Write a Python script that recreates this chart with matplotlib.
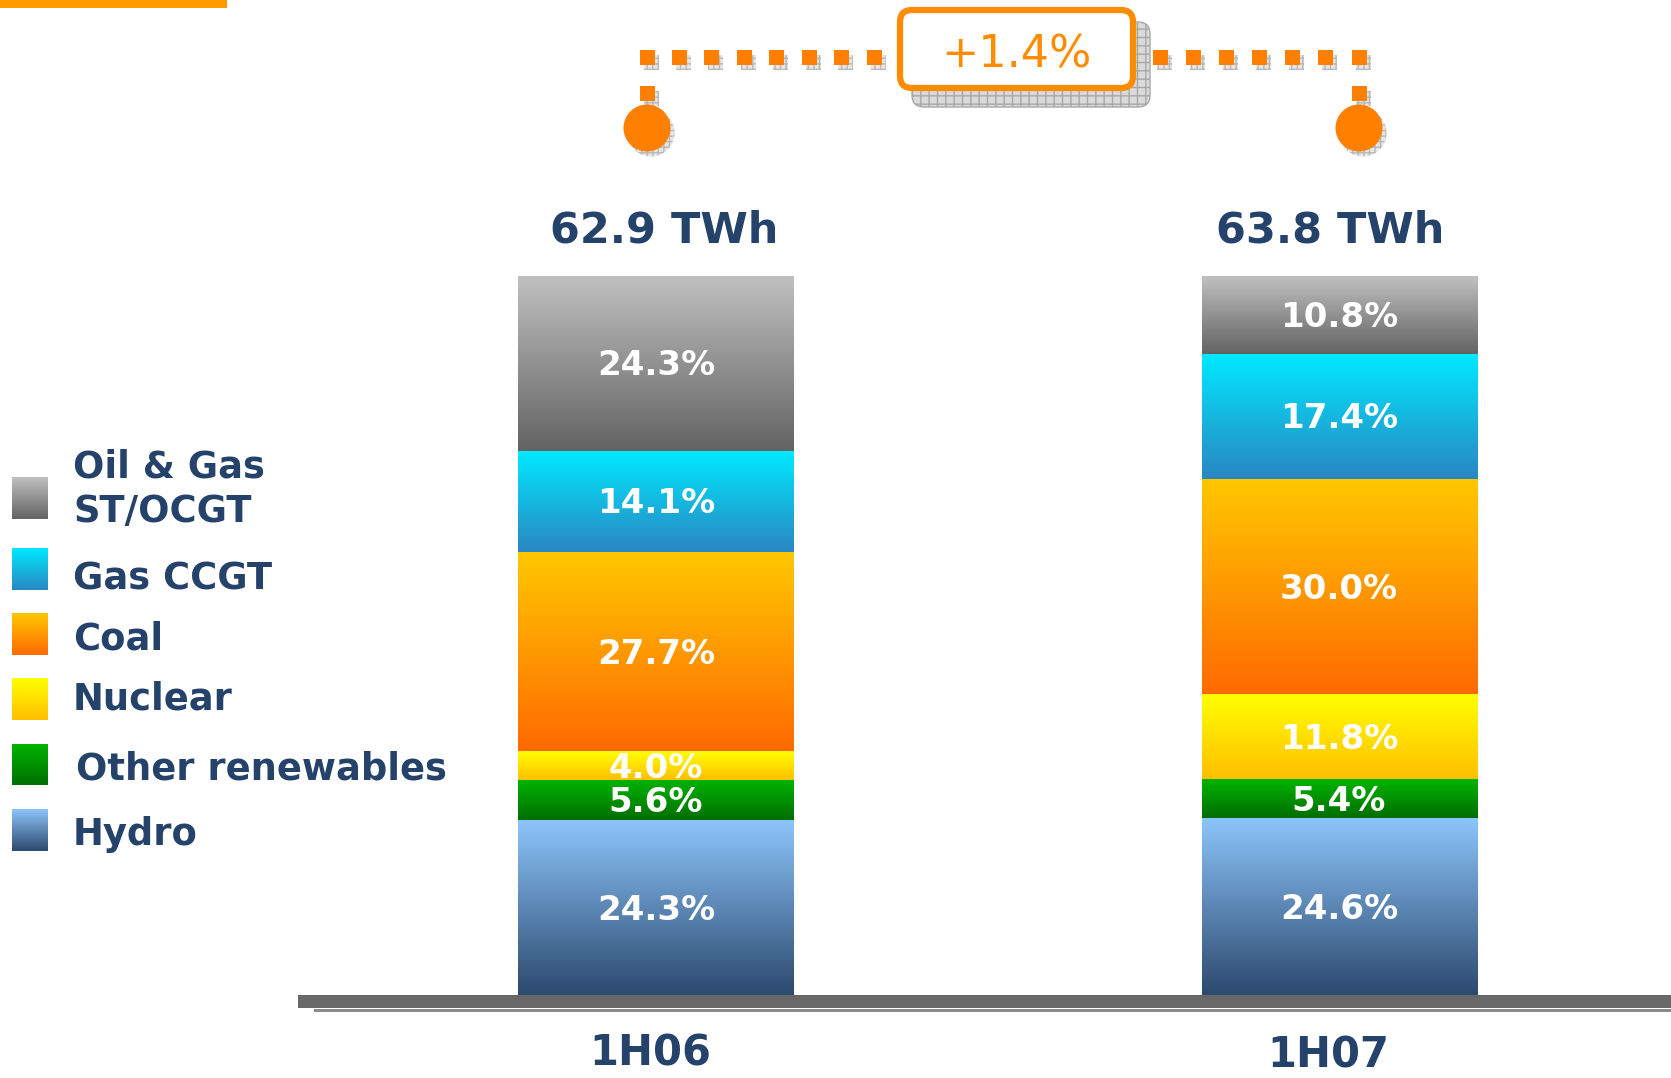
import numpy as np
import matplotlib
matplotlib.use("Agg")
import matplotlib.pyplot as plt
from matplotlib.colors import to_rgb
from matplotlib.patches import Rectangle, Ellipse, FancyBboxPatch

# ---------------- data ----------------
categories = ["Hydro", "Other renewables", "Nuclear", "Coal", "Gas CCGT", "Oil & Gas\nST/OCGT"]
periods = ["1H06", "1H07"]
share_1h06 = [24.3, 5.6, 4.0, 27.7, 14.1, 24.3]
share_1h07 = [24.6, 5.4, 11.8, 30.0, 17.4, 10.8]
totals_twh = [62.9, 63.8]

# gradient colours (top, bottom) per category
grad_top = ["#8cc5fb", "#00b400", "#ffff00", "#ffc800", "#00eaff", "#c0c0c0"]
grad_bot = ["#2c496e", "#006e00", "#ffbf00", "#ff6a00", "#2a86c2", "#636363"]

NAVY = "#24426a"
ORANGE = "#ff7f00"
BOX_ORANGE = "#ff8c00"

W, H = 1671, 1078
fig = plt.figure(figsize=(W / 100, H / 100), dpi=100)
fig.patch.set_facecolor("white")


def gradient(top, bot, n=256):
    t = np.linspace(0, 1, n)[:, None]
    ct, cb = np.array(to_rgb(top)), np.array(to_rgb(bot))
    # row 0 = bottom colour
    img = cb[None, :] * (1 - t[..., None]) + ct[None, :] * t[..., None]
    return np.repeat(img, 2, axis=1)


# ---------------- bar axes ----------------
ax_left, ax_right, ax_bot, ax_top = 298, 1671, 995, 276
ax = fig.add_axes([ax_left / W, (H - ax_bot) / H, (ax_right - ax_left) / W, (ax_bot - ax_top) / H])
ax.axis("off")
x = np.arange(len(periods))
width = 0.4026
data = np.array([share_1h06, share_1h07]).T  # categories x periods
bottom = np.zeros(len(periods))
for ci, cat in enumerate(categories):
    bars = ax.bar(x, data[ci], width=width, bottom=bottom, color="none", edgecolor="none")
    for bi, p in enumerate(bars.patches):
        x0, y0, w, h = p.get_x(), p.get_y(), p.get_width(), p.get_height()
        ax.imshow(gradient(grad_top[ci], grad_bot[ci]), extent=(x0, x0 + w, y0, y0 + h),
                  origin="lower", aspect="auto", interpolation="bilinear", zorder=1)
        ax.annotate(f"{data[ci][bi]:.1f}%", xy=(x0 + w / 2, y0 + h / 2), xytext=(0, -12),
                    textcoords="offset pixels", ha="center", va="baseline",
                    color="white", fontsize=24.5, fontweight="bold", zorder=3)
    bottom = bottom + data[ci]

tot_dx = [8, -9]
for i, t in enumerate(totals_twh):
    ax.annotate(f"{t:.1f} TWh", xy=(x[i], bottom[i]), xytext=(tot_dx[i], 34),
                textcoords="offset pixels", ha="center", va="baseline",
                color=NAVY, fontsize=31, fontweight="bold")

cat_dx = [-6, -11]
cat_dy = [-71, -72]
for i, p in enumerate(periods):
    ax.annotate(p, xy=(x[i], 0), xytext=(cat_dx[i], cat_dy[i]), textcoords="offset pixels",
                ha="center", va="baseline", color=NAVY, fontsize=30, fontweight="bold",
                annotation_clip=False)

ax.set_xlim(-0.524, 1.486)
ax.set_ylim(0, 100)

# ---------------- overlay (pixel coords) ----------------
ov = fig.add_axes([0, 0, 1, 1])
ov.axis("off")
ov.patch.set_visible(False)

# top-left orange strip
ov.add_patch(Rectangle((0, 0), 227, 7.5, color="#ff9900", lw=0))

# baseline band
ov.add_patch(Rectangle((314, 1008.5), W - 314, 3, color="#8a8a8a", lw=0))
ov.add_patch(Rectangle((298, 995), W - 298, 13, color="#686868", lw=0))

# legend
sq_top = [477, 548, 613, 678, 744, 809]
sq_bot = [519, 590, 655, 720, 785, 851]
txt_base = [[477, 522], [590], [649], [710], [780], [845]]
txt_x = [73, 73, 73, 73, 76, 73]
for li, ci in enumerate(range(len(categories) - 1, -1, -1)):
    ov.imshow(gradient(grad_top[ci], grad_bot[ci]), extent=(12, 48, sq_bot[li], sq_top[li]),
              origin="lower", aspect="auto", interpolation="bilinear")
    for line, yb in zip(categories[ci].split("\n"), txt_base[li]):
        ov.text(txt_x[li], yb, line, ha="left", va="baseline", color=NAVY,
                fontsize=26.6, fontweight="bold")

# growth annotation
growth = (totals_twh[1] / totals_twh[0] - 1) * 100
sh_dx, sh_dy = 4, 5
sq = 15
row_y = 57
left_xs = np.linspace(647, 874, 8)
right_xs = np.linspace(1160, 1359, 7)
sq_centers = [(cx, row_y) for cx in left_xs] + [(cx, row_y) for cx in right_xs] + \
             [(647, 93), (1359, 93)]
for cx, cy in sq_centers:
    ov.add_patch(Rectangle((cx - sq / 2 + sh_dx, cy - sq / 2 + sh_dy), sq, sq,
                           facecolor="#e6e6e6", edgecolor="#b8b8b8", hatch="+++", lw=0))
for cx, cy in sq_centers:
    ov.add_patch(Rectangle((cx - sq / 2, cy - sq / 2), sq, sq, color=ORANGE, lw=0))
for cx in (647, 1359):
    ov.add_patch(Ellipse((cx + sh_dx, 128 + sh_dy), 47, 47, facecolor="#e6e6e6",
                         edgecolor="#b8b8b8", hatch="+++", lw=0))
    ov.add_patch(Ellipse((cx, 128), 47, 47, color=ORANGE, lw=0))

ov.add_patch(FancyBboxPatch((912, 22), 238, 85, boxstyle="round,pad=0,rounding_size=12",
                            facecolor="#dadada", edgecolor="#a8a8a8", hatch="++", lw=1))
ov.add_patch(FancyBboxPatch((900, 10), 233, 78, boxstyle="round,pad=0,rounding_size=12",
                            facecolor="white", edgecolor=BOX_ORANGE, lw=4.5))
ov.text(1016, 67, f"+{growth:.1f}%", ha="center", va="baseline", color=BOX_ORANGE,
        fontsize=32)

ov.set_xlim(0, W)
ov.set_ylim(H, 0)

fig.savefig("out.png", dpi=100)
